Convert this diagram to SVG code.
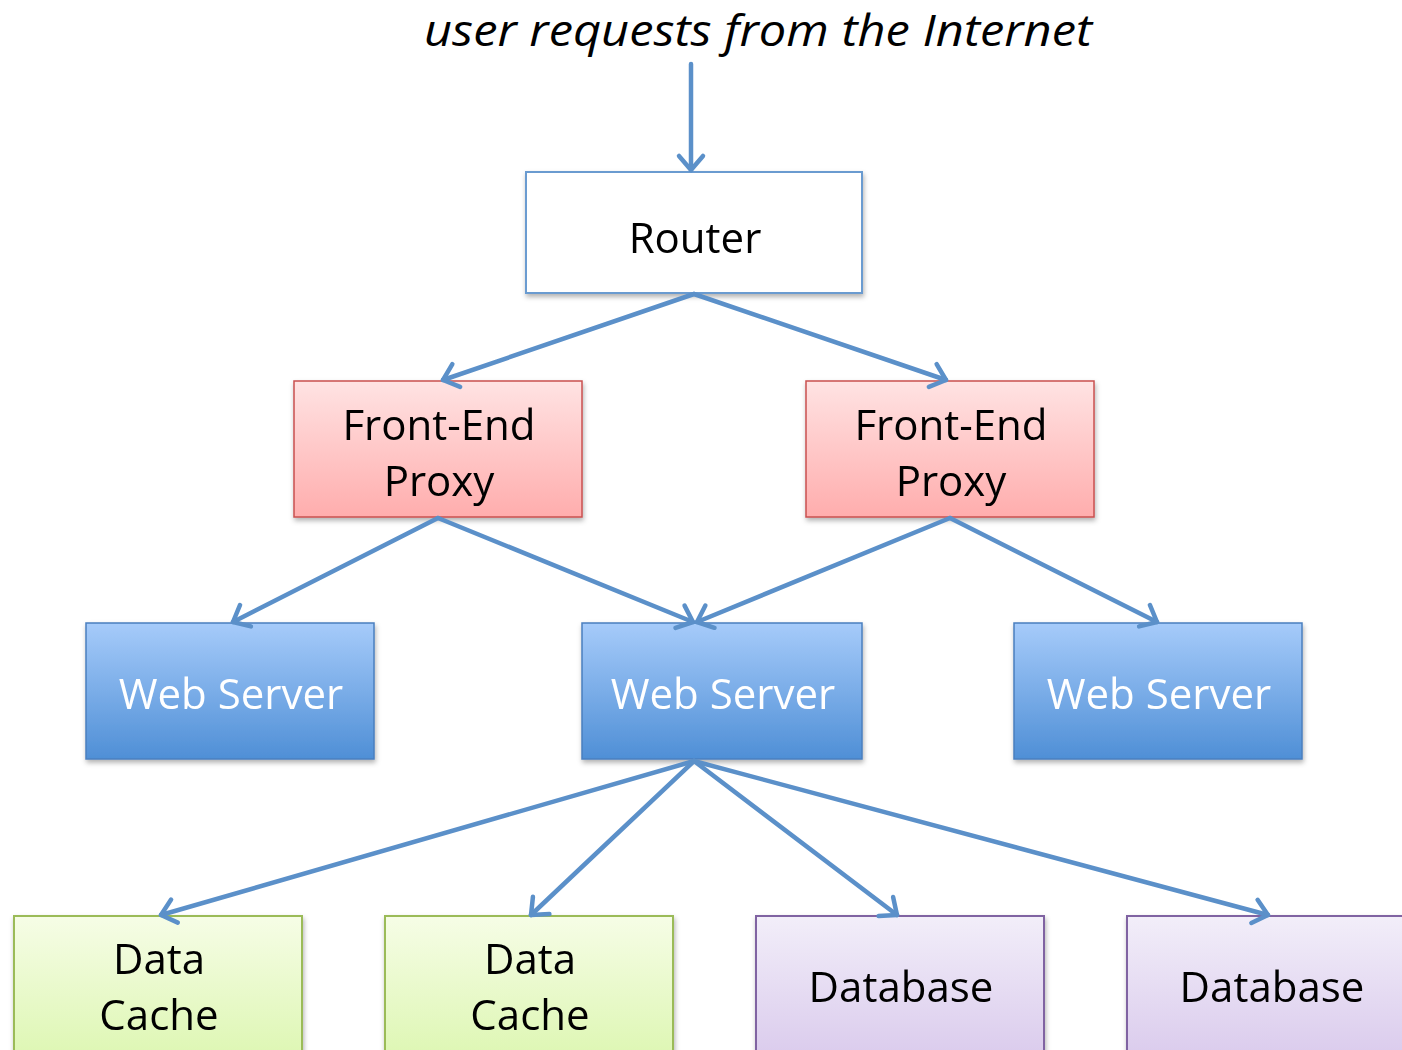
<svg xmlns="http://www.w3.org/2000/svg" width="1402" height="1050" viewBox="0 0 1402 1050">
<defs>
<style>
.t{font-family:"Open Sans","Noto Sans","DejaVu Sans",sans-serif;font-size:42px;text-anchor:middle;fill:#000}
.w{fill:#fff}
.c{fill:none;stroke:#5b90c9;stroke-width:4.5;stroke-linecap:round}
.router{fill:#fff;stroke:#6a9bd0;stroke-width:2}
.proxy{fill:url(#gp);stroke:#c9504f;stroke-width:1.5}
.web{fill:url(#gw);stroke:#4a7fbf;stroke-width:1.5}
.cache{fill:url(#gc);stroke:#9bbb59;stroke-width:2}
.db{fill:url(#gd);stroke:#8064a2;stroke-width:2}
</style>
<linearGradient id="gp" x1="0" y1="0" x2="0" y2="1"><stop offset="0" stop-color="#ffe3e3"/><stop offset="1" stop-color="#ffadad"/></linearGradient>
<linearGradient id="gw" x1="0" y1="0" x2="0" y2="1"><stop offset="0" stop-color="#a6cbfa"/><stop offset="1" stop-color="#4f8fd6"/></linearGradient>
<linearGradient id="gc" x1="0" y1="0" x2="0" y2="1"><stop offset="0" stop-color="#f6fde6"/><stop offset="1" stop-color="#dcf6b0"/></linearGradient>
<linearGradient id="gd" x1="0" y1="0" x2="0" y2="1"><stop offset="0" stop-color="#f2eef9"/><stop offset="1" stop-color="#d9c9ec"/></linearGradient>
<filter id="sh" x="-10%" y="-10%" width="125%" height="130%"><feDropShadow dx="1" dy="3" stdDeviation="2.5" flood-color="#000" flood-opacity="0.3"/></filter>
<marker id="ah" markerUnits="userSpaceOnUse" markerWidth="40" markerHeight="40" viewBox="-20 -20 40 40" refX="0" refY="0" orient="auto">
<path d="M-14,-12 L0,0 L-14,12" fill="none" stroke="#5b90c9" stroke-width="4.5" stroke-linecap="round" stroke-linejoin="round"/>
</marker>
</defs>
<rect width="1402" height="1050" fill="#fff"/>
<text x="758" y="46" class="t" style="font-style:italic;font-size:44px" textLength="668" lengthAdjust="spacingAndGlyphs">user requests from the Internet</text>

<g id="router" filter="url(#sh)"><rect x="526" y="172" width="336" height="121" class="router"/><text x="695" y="253" class="t">Router</text></g>
<g id="proxy1" filter="url(#sh)"><rect x="294" y="381" width="288" height="136" class="proxy"/><text x="439" y="440" class="t">Front-End</text><text x="439" y="496" class="t">Proxy</text></g>
<g id="proxy2" filter="url(#sh)"><rect x="806" y="381" width="288" height="136" class="proxy"/><text x="951" y="440" class="t">Front-End</text><text x="951" y="496" class="t">Proxy</text></g>
<g id="web1" filter="url(#sh)"><rect x="86" y="623" width="288" height="136" class="web"/><text x="231" y="709" class="t w">Web Server</text></g>
<g id="web2" filter="url(#sh)"><rect x="582" y="623" width="280" height="136" class="web"/><text x="723" y="709" class="t w">Web Server</text></g>
<g id="web3" filter="url(#sh)"><rect x="1014" y="623" width="288" height="136" class="web"/><text x="1159" y="709" class="t w">Web Server</text></g>
<g id="cache1" filter="url(#sh)"><rect x="14" y="916" width="288" height="150" class="cache"/><text x="159" y="974" class="t">Data</text><text x="159" y="1030" class="t">Cache</text></g>
<g id="cache2" filter="url(#sh)"><rect x="385" y="916" width="288" height="150" class="cache"/><text x="530" y="974" class="t">Data</text><text x="530" y="1030" class="t">Cache</text></g>
<g id="db1" filter="url(#sh)"><rect x="756" y="916" width="288" height="150" class="db"/><text x="901" y="1002" class="t">Database</text></g>
<g id="db2" filter="url(#sh)"><rect x="1127" y="916" width="288" height="150" class="db"/><text x="1272" y="1002" class="t">Database</text></g>

<g id="connectors" class="c">
<line x1="691" y1="64" x2="691" y2="170" class="c" marker-end="url(#ah)"/>
<line x1="694" y1="294" x2="443" y2="380" class="c" marker-end="url(#ah)"/>
<line x1="694" y1="294" x2="946" y2="380" class="c" marker-end="url(#ah)"/>
<line x1="438" y1="518" x2="233" y2="622" class="c" marker-end="url(#ah)"/>
<line x1="438" y1="518" x2="693" y2="622" class="c" marker-end="url(#ah)"/>
<line x1="950" y1="518" x2="697" y2="622" class="c" marker-end="url(#ah)"/>
<line x1="950" y1="518" x2="1157" y2="622" class="c" marker-end="url(#ah)"/>
<line x1="694" y1="761" x2="161" y2="915" class="c" marker-end="url(#ah)"/>
<line x1="694" y1="761" x2="531" y2="915" class="c" marker-end="url(#ah)"/>
<line x1="694" y1="761" x2="897" y2="915" class="c" marker-end="url(#ah)"/>
<line x1="694" y1="761" x2="1268" y2="915" class="c" marker-end="url(#ah)"/>
</g>
</svg>
